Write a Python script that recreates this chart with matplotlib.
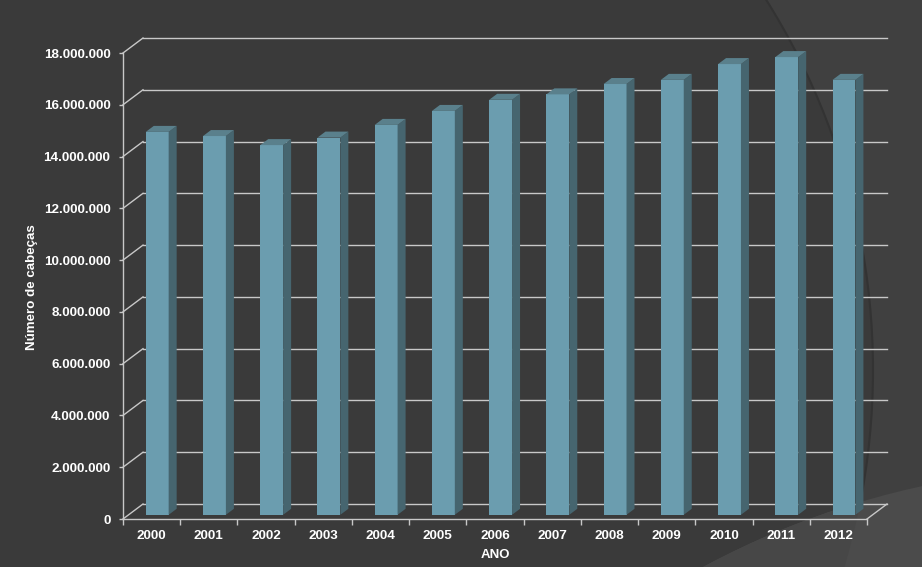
import matplotlib
matplotlib.use("Agg")
import matplotlib.pyplot as plt
from matplotlib.patches import Polygon, Circle, Rectangle
from matplotlib.ticker import FuncFormatter, FixedLocator

# ---------------- data ----------------
anos = ["2000", "2001", "2002", "2003", "2004", "2005", "2006",
        "2007", "2008", "2009", "2010", "2011", "2012"]
cabecas = [14.79e6, 14.63e6, 14.28e6, 14.57e6, 15.06e6, 15.60e6, 16.03e6,
           16.24e6, 16.64e6, 16.80e6, 17.41e6, 17.68e6, 16.80e6]
y_ticks = [0, 2e6, 4e6, 6e6, 8e6, 10e6, 12e6, 14e6, 16e6, 18e6]
y_label = "Número de cabeças"
x_label = "ANO"

# ---------------- style ----------------
W, H, DPI = 922, 567, 100
BG_DARK = "#3a3a3a"
BG_MID = "#404040"
BG_LIGHT = "#4b4b4b"
BG_LIGHT2 = "#474747"
FRONT = "#6b9daf"
SIDE = "#46656f"
TOP = "#5a808c"
GRID = "#c8c8c8"
TXT = "white"
FONT = ["Liberation Sans", "DejaVu Sans"]

plt.rcParams["font.family"] = FONT
plt.rcParams["font.weight"] = "bold"

fig = plt.figure(figsize=(W / DPI, H / DPI), dpi=DPI)

# decorative background (figure pixel space)
bg = fig.add_axes([0, 0, 1, 1], zorder=-10)
bg.set_xlim(0, W)
bg.set_ylim(H, 0)
bg.axis("off")
bg.add_patch(Rectangle((0, 0), W, H, color=BG_MID))
big = Circle((178, 370), 695, facecolor=BG_DARK, edgecolor="#333333", lw=1.5)
bg.add_patch(big)
low1 = Circle((1100, 1305), 838, facecolor=BG_LIGHT, edgecolor="none")
bg.add_patch(low1)
low2 = Circle((1100, 1305), 838, facecolor=BG_LIGHT2, edgecolor="none")
bg.add_patch(low2)
low2.set_clip_path(big)

# main axes = front plane of the 3D box
L, R, B, T = 123, 867, 519, 53
ax = fig.add_axes([L / W, (H - B) / H, (R - L) / W, (B - T) / H])
ax.patch.set_visible(False)
n = len(anos)
ymax = 18e6
ax.set_xlim(-0.5, n - 0.5)
ax.set_ylim(0, ymax)

# depth of the 3D box in data units
DEPTH_PX = (20, 15)
dx = DEPTH_PX[0] * n / (R - L)
dy = DEPTH_PX[1] * ymax / (B - T)

# back wall grid + side wall diagonals
for v in y_ticks:
    ax.plot([-0.5 + dx, n - 0.5 + dx], [v + dy, v + dy], color=GRID, lw=1.0,
            clip_on=False, zorder=1)
    ax.plot([-0.5, -0.5 + dx], [v, v + dy], color=GRID, lw=1.0,
            clip_on=False, zorder=1)
# floor right edge
ax.plot([n - 0.5, n - 0.5 + dx], [0, dy], color=GRID, lw=1.0, clip_on=False, zorder=1)

# bars
f0, f1 = 0.28, 0.68
bw = 0.40
xs = [i + f0 * dx for i in range(n)]
b0 = f0 * dy
ax.bar(xs, cabecas, bottom=b0, width=bw, color=FRONT, zorder=3, linewidth=0)
dd = f1 - f0
for x, v in zip(xs, cabecas):
    xl, xr = x - bw / 2, x + bw / 2
    top = b0 + v
    ax.add_patch(Polygon([(xr, b0), (xr, top), (xr + dd * dx, top + dd * dy),
                          (xr + dd * dx, b0 + dd * dy)], closed=True,
                         facecolor=SIDE, edgecolor="none", zorder=3, clip_on=False))
    ax.add_patch(Polygon([(xl, top), (xr, top), (xr + dd * dx, top + dd * dy),
                          (xl + dd * dx, top + dd * dy)], closed=True,
                         facecolor=TOP, edgecolor="none", zorder=3, clip_on=False))

# axes / spines
for s in ["top", "right"]:
    ax.spines[s].set_visible(False)
for s in ["left", "bottom"]:
    ax.spines[s].set_color(GRID)
    ax.spines[s].set_linewidth(1.0)

ax.yaxis.set_major_locator(FixedLocator(y_ticks))
ax.yaxis.set_major_formatter(FuncFormatter(lambda v, p: f"{int(round(v)):,}".replace(",", ".")))
ax.tick_params(axis="y", direction="out", length=3, width=1.0, color=GRID,
               labelcolor=TXT, labelsize=9.7, pad=6)

ax.set_xticks(range(n))
ax.set_xticklabels(anos)
ax.set_xticks([i - 0.5 for i in range(n + 1)], minor=True)
ax.tick_params(axis="x", which="major", length=0, labelcolor=TXT, labelsize=9.7, pad=8)
ax.tick_params(axis="x", which="minor", direction="out", length=4, width=1.0, color=GRID)
for lab in ax.get_xticklabels() + ax.get_yticklabels():
    lab.set_fontweight("bold")

ax.set_ylabel(y_label, color=TXT, fontsize=9.6, fontweight="bold", va="center")
ax.yaxis.set_label_coords((32 - L) / (R - L), (B - 287) / (B - T))
ax.set_xlabel(x_label, color=TXT, fontsize=9.5, fontweight="bold", va="center")
ax.xaxis.set_label_coords(0.501, (B - 555) / (B - T))

fig.savefig("out.png", dpi=DPI, facecolor=BG_DARK)
